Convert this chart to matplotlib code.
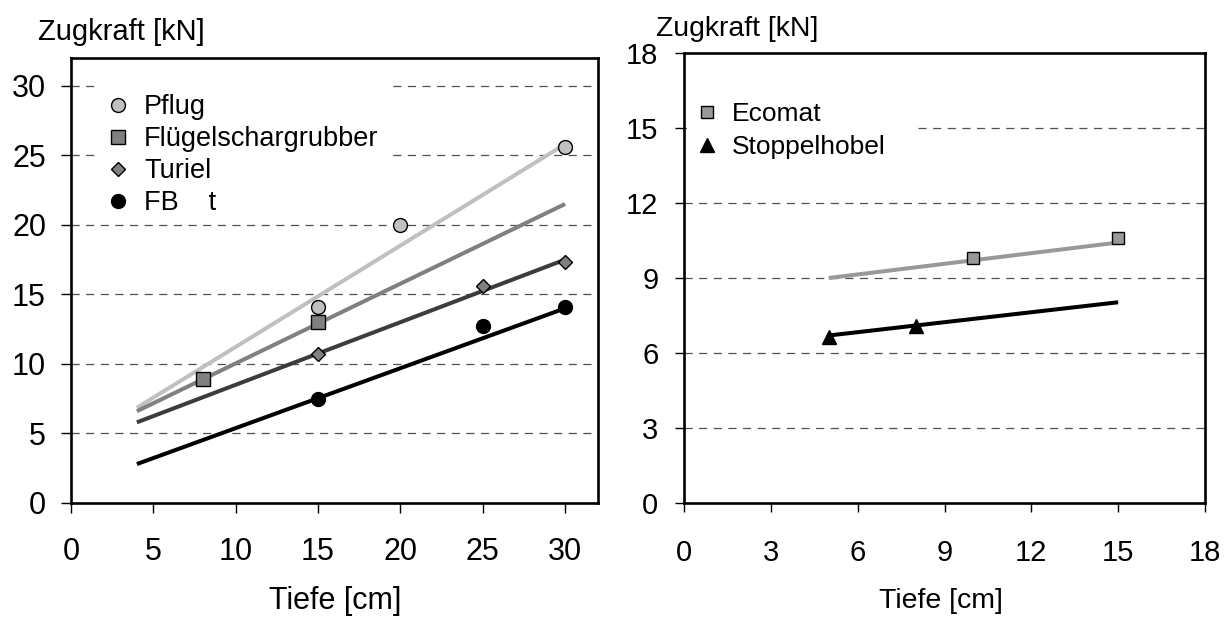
import matplotlib
matplotlib.use("Agg")
import matplotlib.pyplot as plt
from matplotlib.patches import Rectangle

plt.rcParams["font.family"] = ["Liberation Sans", "DejaVu Sans"]

# --- left panel: soil tillage tools, draught force vs. working depth ---
pflug_x = [15, 20, 30]
pflug_y = [14.1, 20.0, 25.6]
fluegel_x = [8, 15]
fluegel_y = [8.9, 13.0]
turiel_x = [15, 25, 30]
turiel_y = [10.7, 15.6, 17.3]
fb_x = [15, 25, 30]
fb_y = [7.5, 12.7, 14.1]

trend_left_x = [4, 30]
pflug_trend = [6.85, 25.8]
fluegel_trend = [6.6, 21.5]
turiel_trend = [5.8, 17.5]
fb_trend = [2.8, 14.0]

left_labels = ["Pflug", "Flügelschargrubber", "Turiel", "FB    t"]

# --- right panel: shallow tillage tools ---
ecomat_x = [10, 15]
ecomat_y = [9.8, 10.6]
stoppel_x = [5, 8]
stoppel_y = [6.65, 7.08]

trend_right_x = [5, 15]
ecomat_trend = [9.0, 10.42]
stoppel_trend = [6.7, 8.03]

right_labels = ["Ecomat", "Stoppelhobel"]

W, H = 1227, 617
fig = plt.figure(figsize=(W / 100, H / 100), dpi=100)

def px_axes(left, right, top, bottom):
    return fig.add_axes([left / W, (H - bottom) / H, (right - left) / W, (bottom - top) / H])

ax1 = px_axes(71, 598, 58, 503)
ax2 = px_axes(684, 1205, 53, 503)

grid_kw = dict(color="#505050", lw=0.9, ls=(0, (6.5, 5.2)), zorder=0)

def style(ax, lim, tick_max, step, tsize, tlen, ypad, xpad):
    ax.set_xlim(0, lim)
    ax.set_ylim(0, lim)
    ticks = list(range(0, tick_max + 1, step))
    ax.set_xticks(ticks)
    ax.set_yticks(ticks)
    for t in ticks[1:]:
        if t < lim:
            ax.axhline(t, **grid_kw)
    for s in ax.spines.values():
        s.set_linewidth(1.9)
        s.set_color("black")
    ax.tick_params(axis="both", direction="out", length=tlen, width=1.0,
                   labelsize=tsize, colors="black")
    ax.tick_params(axis="y", pad=ypad)
    ax.tick_params(axis="x", pad=xpad)

style(ax1, 32, 30, 5, 22, 7, 11, 17.5)
style(ax2, 18, 18, 3, 21, 6.5, 12, 19.5)

# white areas behind the legends
ax1.add_patch(Rectangle((0.0474, 0.7034), 0.5617, 0.256, transform=ax1.transAxes,
                        facecolor="white", edgecolor="none", zorder=1))
ax2.add_patch(Rectangle((0.0058, 0.751), 0.434, 0.167, transform=ax2.transAxes,
                        facecolor="white", edgecolor="none", zorder=1))

# trend lines
lw = 2.9
ax1.plot(trend_left_x, pflug_trend, color="#c0c0c0", lw=lw, zorder=2, solid_capstyle="butt")
ax1.plot(trend_left_x, fluegel_trend, color="#808080", lw=lw, zorder=2, solid_capstyle="butt")
ax1.plot(trend_left_x, turiel_trend, color="#3c3c3c", lw=lw, zorder=2, solid_capstyle="butt")
ax1.plot(trend_left_x, fb_trend, color="black", lw=lw, zorder=2, solid_capstyle="butt")

# measured points
mk = dict(ls="none", markeredgecolor="black", markeredgewidth=1.0, zorder=3)
h1 = ax1.plot(pflug_x, pflug_y, marker="o", ms=10, markerfacecolor="#c0c0c0", **mk)[0]
h2 = ax1.plot(fluegel_x, fluegel_y, marker="s", ms=10, markerfacecolor="#808080", **mk)[0]
h3 = ax1.plot(turiel_x, turiel_y, marker="D", ms=7, markerfacecolor="#808080", **mk)[0]
h4 = ax1.plot(fb_x, fb_y, marker="o", ms=10, markerfacecolor="black", **mk)[0]

ax2.plot(trend_right_x, ecomat_trend, color="#999999", lw=lw, zorder=2, solid_capstyle="butt")
ax2.plot(trend_right_x, stoppel_trend, color="black", lw=lw, zorder=2, solid_capstyle="butt")
g1 = ax2.plot(ecomat_x, ecomat_y, marker="s", ms=9, markerfacecolor="#999999", **mk)[0]
g2 = ax2.plot(stoppel_x, stoppel_y, marker="^", ms=10.5, markerfacecolor="black", **mk)[0]

leg_kw = dict(loc="upper left", borderaxespad=0, borderpad=0, frameon=False,
              handlelength=0.8, handletextpad=0.55, numpoints=1)
l1 = ax1.legend([h1, h2, h3, h4], left_labels, bbox_to_anchor=(0.0693, 0.918),
                fontsize=19.5, labelspacing=0.22, **leg_kw)
l2 = ax2.legend([g1, g2], right_labels, bbox_to_anchor=(0.0234, 0.891),
                fontsize=19, labelspacing=0.33, **leg_kw)
for lg in (l1, l2):
    lg.set_zorder(5)

# axis titles
fig.text(38 / W, 1 - 40 / H, "Zugkraft [kN]", fontsize=21, va="baseline", ha="left")
fig.text(656.5 / W, 1 - 36 / H, "Zugkraft [kN]", fontsize=20.4, va="baseline", ha="left")
fig.text(335 / W, 1 - 609 / H, "Tiefe [cm]", fontsize=22, va="baseline", ha="center")
fig.text(941 / W, 1 - 608 / H, "Tiefe [cm]", fontsize=20.5, va="baseline", ha="center")

fig.savefig("out.png", dpi=100)
